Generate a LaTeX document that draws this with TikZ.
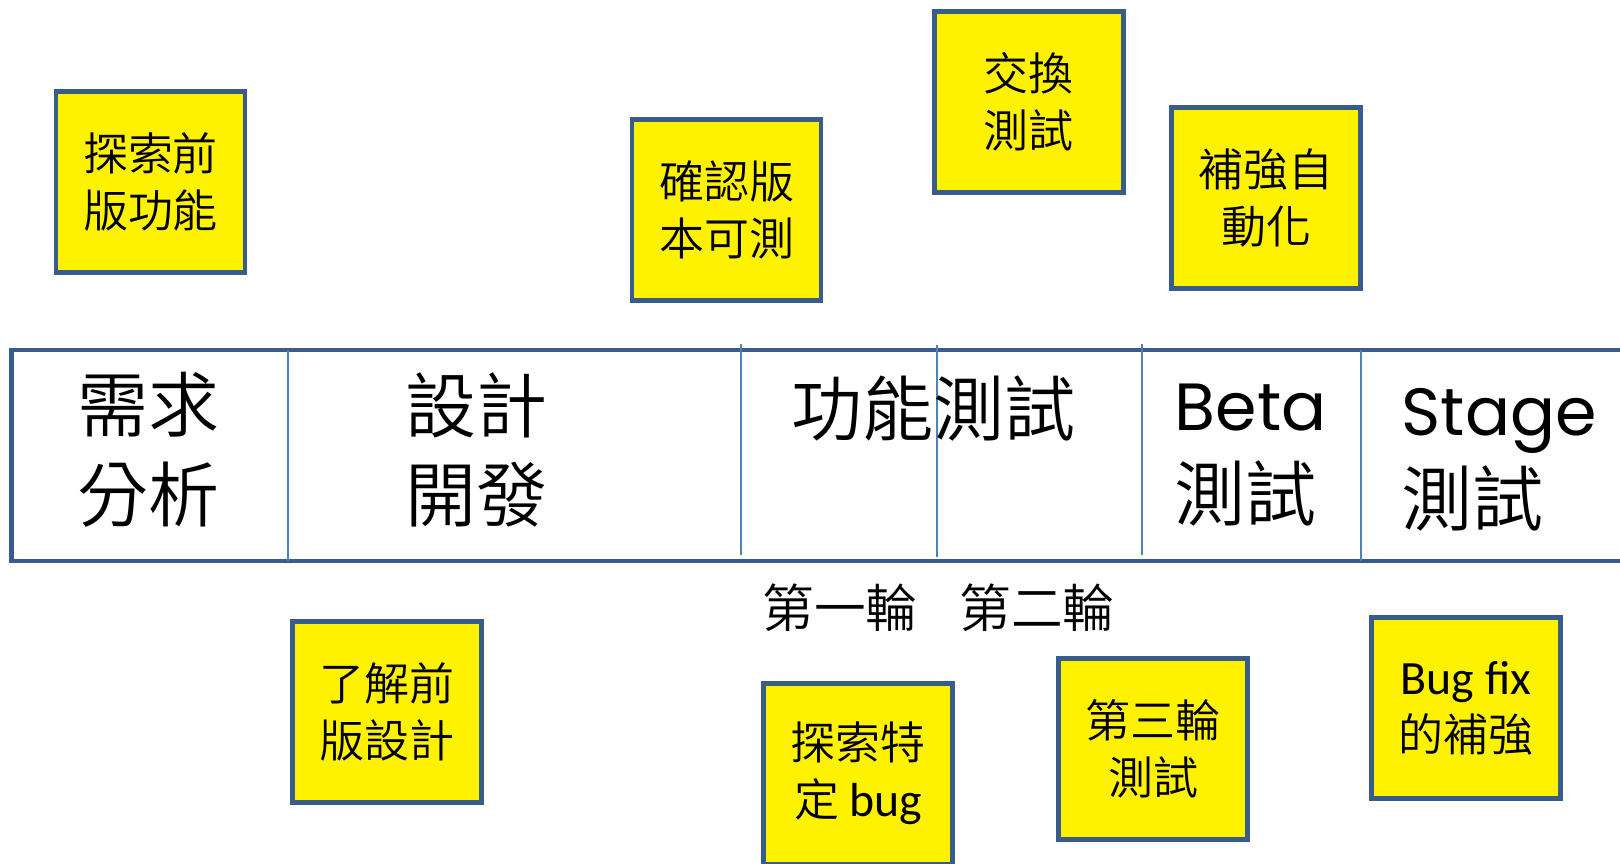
\documentclass[tikz,border=0pt]{standalone}
\usepackage{fontspec}
\setmainfont{Noto Sans CJK TC DemiLight}
\newfontfamily\latfont{Carlito}
\newfontfamily\comicfont{Poppins}
\usepackage{tikz}
\definecolor{boxblue}{RGB}{56,93,138}
\definecolor{lineblue}{RGB}{79,129,189}
\tikzset{
	note/.style={shape=rectangle, draw=boxblue, line width=1.34pt, fill=yellow, minimum width=1.89cm, minimum height=1.81cm, inner sep=0pt, align=center, font=\fontsize{12.8}{16.2}\selectfont},
	phase/.style={inner sep=0pt, align=center, font=\fontsize{20.2}{25.6}\selectfont},
	round/.style={inner sep=0pt, font=\fontsize{14.7}{17}\selectfont},
	divider/.style={draw=lineblue, line width=0.45pt}
}

\begin{document}
\begin{tikzpicture}
				\useasboundingbox (0, 0) rectangle (16.2, 8.63);
				% Band and dividers:
				\node[shape=rectangle, draw=boxblue, line width=1.3pt, minimum width=16.386cm, minimum height=2.11cm, inner sep=0pt](band) at (8.307, 4.075){};
				\draw[divider] (2.88, 5.13) -- (2.88, 3.02);
				\draw[divider] (7.41, 5.19) -- (7.41, 3.08);
				\draw[divider] (9.37, 5.18) -- (9.37, 3.06);
				\draw[divider] (11.42, 5.19) -- (11.42, 3.08);
				\draw[divider] (13.61, 5.13) -- (13.61, 3.02);
				% Phase labels:
				\node[phase](P1) at (1.485, 4.13){需求\\分析};
				\node[phase](P2) at (4.76, 4.13){設計\\開發};
				\node[phase](P3) at (9.33, 4.55){功能測試};
				\node[phase, anchor=west, align=left](P4) at (11.74, 4.08){{\comicfont\fontsize{19}{25.6}\selectfont Beta}\\測試};
				\node[phase, anchor=west, align=left](P5) at (14.01, 4.03){{\comicfont\fontsize{19}{25.6}\selectfont Stage}\\測試};
				\node[round](R1) at (8.40, 2.55){第一輪};
				\node[round](R2) at (10.37, 2.55){第二輪};
				% Notes above the band:
				\node[note](N1) at (1.505, 6.81){探索前\\版功能};
				\node[note](N2) at (7.265, 6.53){確認版\\本可測};
				\node[note](N3) at (10.287, 7.61){交換\\測試};
				\node[note](N4) at (12.66, 6.65){補強自\\動化};
				% Notes below the band:
				\node[note](N5) at (3.87, 1.51){了解前\\版設計};
				\node[note](N6) at (8.58, 0.893){探索特\\定 {\latfont\fontsize{13.6}{16.2}\selectfont bug}};
				\node[note](N7) at (11.53, 1.14){第三輪\\測試};
				\node[note](N8) at (14.66, 1.55){{\latfont\fontsize{13.6}{16.2}\selectfont Bug fix}\\的補強};
			\end{tikzpicture}
\end{document}
